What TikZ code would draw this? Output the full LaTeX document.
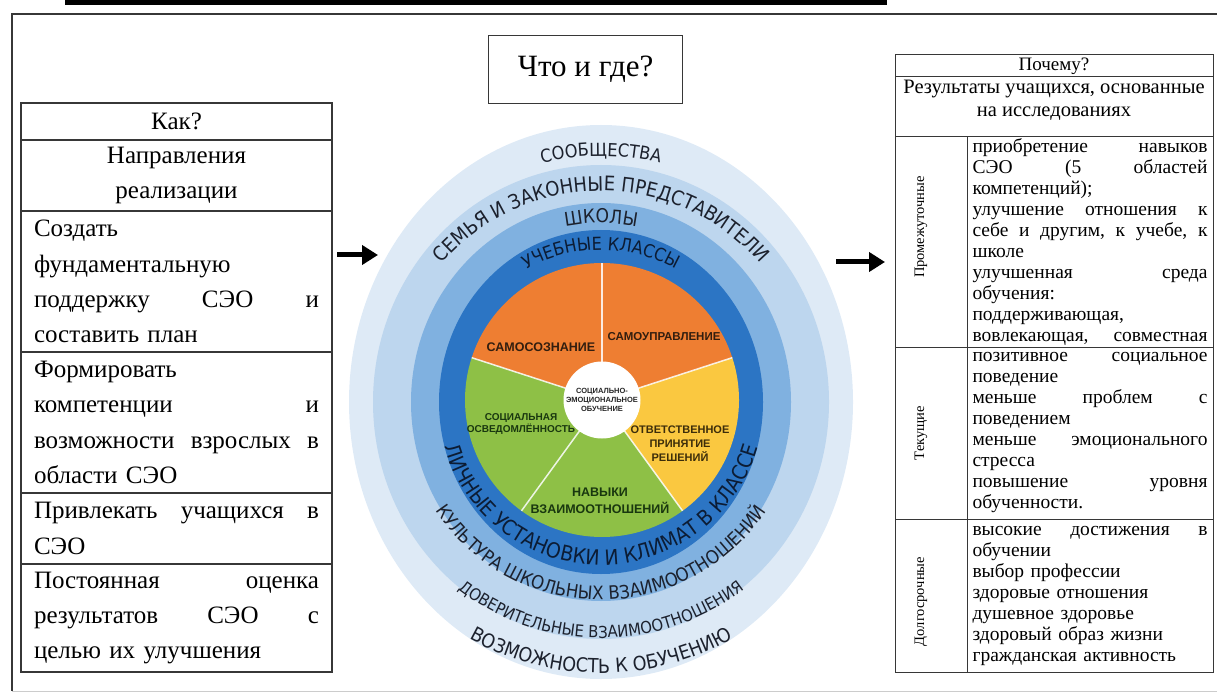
\documentclass[tikz,border=0pt]{standalone}
\usepackage{fontspec}
\setmainfont{Liberation Serif}
\newfontfamily\kolcofont[FakeStretch=0.9]{DejaVu Sans}
\newfontfamily\krugfont{Liberation Sans}
\usetikzlibrary{arrows.meta,positioning,decorations.text}
\definecolor{Ramka}{RGB}{55,55,55}
\definecolor{KolcoSoobsh}{RGB}{222,234,246}
\definecolor{KolcoSemya}{RGB}{189,214,238}
\definecolor{KolcoShkola}{RGB}{128,177,224}
\definecolor{KolcoKlass}{RGB}{44,117,196}
\definecolor{Oranzh}{RGB}{238,126,50}
\definecolor{Zelen}{RGB}{142,192,70}
\definecolor{Zhelt}{RGB}{250,200,64}
\definecolor{TekstKolco}{RGB}{28,33,45}
\definecolor{TekstKlass}{RGB}{12,28,52}
\definecolor{TekstOranzh}{RGB}{50,30,15}
\definecolor{TekstZelen}{RGB}{25,55,15}
\definecolor{TekstZhelt}{RGB}{60,45,10}

\begin{document}
\begin{tikzpicture}[x=1pt, y=1pt, node distance=0pt,
    yacheyka/.style={draw=Ramka, line width=1.2pt, outer sep=0pt, inner xsep=13pt, inner ysep=0pt,
      text width=285pt, align=left, font=\fontsize{25}{35.3}\selectfont},
    stroka/.style={draw=Ramka, line width=1pt, outer sep=0pt, inner xsep=5.5pt, inner ysep=0pt,
      text width=235pt, align=left, font=\fontsize{19.5}{21}\selectfont},
    vyach/.style={draw=Ramka, line width=1pt, outer sep=0pt, minimum width=72pt},
    vert/.style={rotate=90, inner sep=0pt, font=\fontsize{14.5}{16}\selectfont},
    sektor/.style 2 args={font=\krugfont\bfseries\fontsize{#1}{#2}\selectfont, align=center, inner sep=0pt},
    dugatekst/.style n args={3}{decorate, decoration={text along path, text align=center,
      text color=#2, text={|\kolcofont\fontsize{#1}{#1}\selectfont|#3}}},
    strelka/.style={-{Triangle[length=16pt,width=19pt]}, line width=5pt, black}]
  \useasboundingbox (0,0) rectangle (1217,-700);

  % рамка страницы
  \fill[black] (65,0) rectangle (887,-5);
  \draw[Ramka, line width=2.5pt] (1217,-14) -- (12,-14) -- (12,-691);
  \draw[black!20, line width=1pt] (12,-691) -- (1217,-691);

  % Как?
  \node[yacheyka, align=center, minimum height=37pt, anchor=north west] (kak) at (21,-103) {Как?};
  \node[yacheyka, align=center, minimum height=71pt, below=of kak] (napr) {Направления\\реализации};
  \node[yacheyka, minimum height=141pt, below=of napr] (sozdat)
    {Создать\\фундаментальную\\поддержку\hfill СЭО\hfill и\\составить план};
  \node[yacheyka, minimum height=141pt, below=of sozdat] (formir)
    {Формировать\\компетенции\hfill и\\возможности\hfill взрослых\hfill в\\области СЭО};
  \node[yacheyka, minimum height=71pt, below=of formir] (privl)
    {Привлекать\hfill учащихся\hfill в\\СЭО};
  \node[yacheyka, minimum height=108pt, below=of privl] (otsenka)
    {Постоянная\hfill оценка\\результатов\hfill СЭО\hfill с\\целью их улучшения};

  % Что и где?
  \node[draw=Ramka, line width=1.2pt, minimum width=194pt, minimum height=68pt,
    font=\fontsize{31}{36}\selectfont, anchor=north west] (chto) at (488,-35) {Что и где?};

  % Почему?
  \node[draw=Ramka, line width=1pt, outer sep=0pt, text width=306pt, inner xsep=6pt, inner ysep=0pt,
    minimum height=22pt, align=center, font=\fontsize{19}{21}\selectfont, anchor=north west] (pochemu) at (895,-55) {Почему?};
  \node[draw=Ramka, line width=1pt, outer sep=0pt, minimum width=318pt, minimum height=60pt, below=of pochemu] (rezult) {};
  \node[align=center, inner sep=0pt, font=\fontsize{20.5}{23}\selectfont, below=3pt of rezult.north] (rezulttekst)
    {Результаты учащихся, основанные\\на исследованиях};

  \node[vyach, minimum height=210pt, anchor=north west] (promyach) at (rezult.south west) {};
  \node[stroka, minimum height=210pt, right=of promyach] (promtekst)
    {приобретение\hfill навыков\\СЭО\hfill (5\hfill областей\\компетенций);\\
     улучшение\hfill отношения\hfill к\\себе\hfill и\hfill другим,\hfill к\hfill учебе,\hfill к\\школе\\
     улучшенная\hfill среда\\обучения:\\поддерживающая,\\вовлекающая,\hfill совместная};
  \node[vyach, minimum height=172pt, below=of promyach] (tekyach) {};
  \node[stroka, minimum height=172pt, right=of tekyach] (tektekst)
    {позитивное\hfill социальное\\поведение\\меньше\hfill проблем\hfill с\\поведением\\
     меньше\hfill эмоционального\\стресса\\повышение\hfill уровня\\обученности.};
  \node[vyach, minimum height=153pt, below=of tekyach] (dolgyach) {};
  \node[stroka, minimum height=153pt, right=of dolgyach] (dolgtekst)
    {высокие\hfill достижения\hfill в\\обучении\\выбор профессии\\здоровые отношения\\
     душевное здоровье\\здоровый образ жизни\\гражданская активность};
  \node[vert] (promnadp) at ([xshift=-10pt, yshift=15pt]promyach.center) {Промежуточные};
  \node[vert] (teknadp) at ([xshift=-10pt]tekyach.center) {Текущие};
  \node[vert] (dolgnadp) at ([xshift=-10pt, yshift=-6pt]dolgyach.center) {Долгосрочные};

  % кольца
  \coordinate (ctr) at (601,-402);
  \fill[KolcoSoobsh] (ctr) ellipse [x radius=252, y radius=277];
  \fill[KolcoSemya] (ctr) ellipse [x radius=228, y radius=237];
  \fill[KolcoShkola] (ctr) ellipse [x radius=190, y radius=199];
  \fill[KolcoKlass] (ctr) ellipse [x radius=162, y radius=172];

  % круг компетенций
  \coordinate (pie) at (602,-400);
  \foreach \nach/\cvet in {90/Oranzh, 162/Zelen, 234/Zelen, 306/Zhelt, 18/Oranzh}
    \fill[\cvet] (pie) -- ++(\nach:137) arc[start angle=\nach, delta angle=72, radius=137] -- cycle;
  \foreach \ug in {18,90,162,234,306}
    \draw[white, line width=1.5pt, opacity=.85] (pie) -- ++(\ug:137);
  \node[circle, fill=white, minimum size=77pt, inner sep=0pt, align=center,
    font=\krugfont\bfseries\fontsize{7.5}{9}\selectfont, text=black!85] (seo) at (pie)
    {СОЦИАЛЬНО-\\ЭМОЦИОНАЛЬНОЕ\\ОБУЧЕНИЕ};
  \node[sektor={12.5}{14}, text=TekstOranzh] (samosozn) at (541,-347) {САМОСОЗНАНИЕ};
  \node[sektor={11.5}{13}, text=TekstOranzh] (samoupr) at (664,-337) {САМОУПРАВЛЕНИЕ};
  \node[sektor={10}{12}, text=TekstZelen] (osved) at (521,-424) {СОЦИАЛЬНАЯ\\ОСВЕДОМЛЁННОСТЬ};
  \node[sektor={11}{14}, text=TekstZhelt] (reshen) at (680,-444) {ОТВЕТСТВЕННОЕ\\ПРИНЯТИЕ\\РЕШЕНИЙ};
  \node[sektor={12.5}{17}, text=TekstZelen] (navyki) at (600,-501) {НАВЫКИ\\ВЗАИМООТНОШЕНИЙ};

  % надписи по кольцам
  \path[dugatekst={18}{TekstKolco}{СООБЩЕСТВА}] (ctr) ++(180:246) arc[start angle=180, end angle=0, radius=246];
  \path[dugatekst={19.5}{TekstKolco}{ВОЗМОЖНОСТЬ К ОБУЧЕНИЮ}] (ctr) ++(180:271) arc[start angle=180, end angle=360, radius=271];
  \path[dugatekst={20}{TekstKolco}{СЕМЬЯ И ЗАКОННЫЕ ПРЕДСТАВИТЕЛИ}] (ctr) ++(180:211) arc[start angle=180, end angle=0, radius=211];
  \path[dugatekst={16.5}{TekstKolco}{ДОВЕРИТЕЛЬНЫЕ ВЗАИМООТНОШЕНИЯ}] (ctr) ++(180:236) arc[start angle=180, end angle=360, radius=236];
  \path[dugatekst={19}{TekstKolco}{ШКОЛЫ}] (ctr) ++(180:179) arc[start angle=180, end angle=0, radius=179];
  \path[dugatekst={18.5}{TekstKolco}{КУЛЬТУРА ШКОЛЬНЫХ ВЗАИМООТНОШЕНИЙ}] (ctr) ++(180:198) arc[start angle=180, end angle=360, radius=198];
  \path[dugatekst={18}{TekstKlass}{УЧЕБНЫЕ КЛАССЫ}] (ctr) ++(180:152) arc[start angle=180, end angle=0, radius=152];
  \path[dugatekst={21}{TekstKlass}{ЛИЧНЫЕ УСТАНОВКИ И КЛИМАТ В КЛАССЕ}] (ctr) ++(180:163) arc[start angle=180, end angle=360, radius=163];

  % стрелки
  \coordinate (strL1) at (337,-255);
  \coordinate (strL2) at (378,-255);
  \coordinate (strR1) at (836,-262);
  \coordinate (strR2) at (885,-262);
  \draw[strelka] (strL1) -- (strL2);
  \draw[strelka] (strR1) -- (strR2);
\end{tikzpicture}
\end{document}
